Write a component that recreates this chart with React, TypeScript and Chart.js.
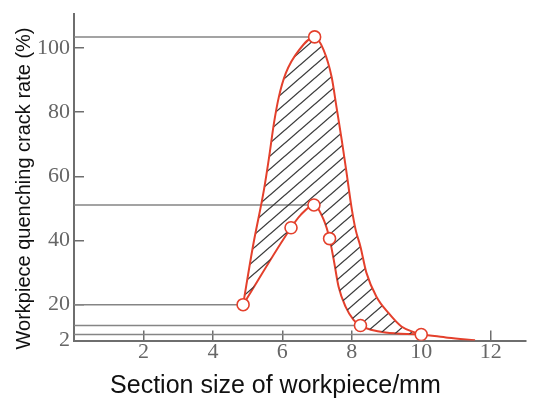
import React, { useEffect, useRef } from "react";
import { Chart, registerables } from "chart.js";

Chart.register(...registerables);

// ---- data ----
const xTicks = [2, 4, 6, 8, 10, 12];
const yTicks = [20, 40, 60, 80, 100];
const Y_MIN = 8.8;
const Y_MAX = 110.6;
const X_MIN = 0;
const X_MAX = 13;
const bottomLabel = "2";

const xTitle = "Section size of workpiece/mm";
const yTitle = "Workpiece quenching crack rate (%)";

// upper boundary curve
const upperX = [4.87, 5.15, 5.47, 5.62, 5.76, 5.9, 6.1, 6.48, 6.93, 7.19, 7.42, 7.56, 7.71, 7.85, 7.99, 8.11, 8.25, 8.42, 8.71, 9.05, 9.43, 9.83, 10.0];
const upperY = [20.0, 38.0, 55.8, 66.1, 76.7, 84.8, 92.2, 99.4, 103.5, 99.4, 91.0, 81.6, 71.4, 61.1, 50.5, 43.4, 38.1, 30.0, 22.5, 17.5, 13.2, 11.3, 10.7];

// lower boundary curve
const lowerX = [4.87, 6.25, 6.53, 6.91, 7.19, 7.36, 7.48, 7.62, 7.82, 8.05, 8.25, 8.97, 10.0, 10.77, 11.55];
const lowerY = [20.0, 44.0, 48.0, 51.1, 46.5, 40.6, 34.0, 25.6, 19.4, 15.3, 13.5, 11.3, 10.7, 9.7, 8.9];

// measured points (circles)
const markerX = [4.87, 6.25, 6.91, 7.36, 8.25, 10.0, 6.93];
const markerY = [20.0, 44.0, 51.1, 40.6, 13.5, 10.7, 103.5];

// horizontal reference lines from the y axis to a point
const refLevel = [103.5, 51.1, 20.0, 13.5, 10.7];
const refEnd = [6.93, 6.91, 4.87, 8.25, 10.0];

const RED = "#e4402c";
const GREY = "#858585";
const AXIS = "#6e6e6e";

function pts(xs: number[], ys: number[]) {
  return xs.map((x, i) => ({ x, y: ys[i] }));
}

function makeHatch(): CanvasPattern | string {
  const c = document.createElement("canvas");
  const w = 15;
  const h = 13;
  c.width = w;
  c.height = h;
  const g = c.getContext("2d");
  if (!g) return "rgba(0,0,0,0.2)";
  g.strokeStyle = "#3a3a3a";
  g.lineWidth = 1.3;
  for (const dx of [-w, 0, w]) {
    g.beginPath();
    g.moveTo(dx - w, 2 * h);
    g.lineTo(dx + 2 * w, -h);
    g.stroke();
  }
  const p = g.createPattern(c, "repeat");
  return p || "rgba(0,0,0,0.2)";
}

export default function App() {
  const ref = useRef<HTMLCanvasElement | null>(null);

  useEffect(() => {
    if (!ref.current) return;
    const hatch = makeHatch();

    const refSets = refLevel.map((lv, i) => ({
      data: [
        { x: X_MIN, y: lv },
        { x: refEnd[i], y: lv },
      ],
      borderColor: GREY,
      borderWidth: 1.5,
      pointRadius: 0,
      fill: false,
      tension: 0,
    }));

    const chart = new Chart(ref.current, {
      type: "line",
      data: {
        datasets: [
          {
            data: pts(markerX, markerY),
            showLine: false,
            pointRadius: 6,
            pointBackgroundColor: "#ffffff",
            pointBorderColor: RED,
            pointBorderWidth: 1.6,
            borderColor: RED,
            fill: false,
          },
          {
            data: pts(upperX, upperY),
            borderColor: RED,
            borderWidth: 2,
            pointRadius: 0,
            cubicInterpolationMode: "monotone",
            fill: "+1",
            backgroundColor: hatch as any,
          },
          {
            data: pts(lowerX, lowerY),
            borderColor: RED,
            borderWidth: 2,
            pointRadius: 0,
            cubicInterpolationMode: "monotone",
            fill: false,
          },
          ...refSets,
        ] as any,
      },
      options: {
        animation: false,
        responsive: false,
        layout: { padding: { left: 0, right: -1, top: 0, bottom: 0 } },
        plugins: {
          legend: { display: false },
          tooltip: { enabled: false },
        },
        scales: {
          x: {
            type: "linear",
            min: X_MIN,
            max: X_MAX,
            afterBuildTicks: (s: any) => {
              s.ticks = xTicks.map((v) => ({ value: v }));
            },
            ticks: {
              font: { family: "Liberation Serif", size: 22 },
              color: "#666666",
              padding: 8,
              callback: (v: any) => String(v),
            },
            grid: {
              drawOnChartArea: false,
              drawTicks: true,
              tickLength: -10,
              color: AXIS,
              lineWidth: 1.5,
            },
            border: { color: AXIS, width: 2 },
            title: {
              display: true,
              text: xTitle + "       ",
              color: "#111111",
              font: { family: "Liberation Sans", size: 25 },
              padding: { top: -2, bottom: 9 },
            },
          },
          y: {
            type: "linear",
            min: Y_MIN,
            max: Y_MAX,
            afterBuildTicks: (s: any) => {
              s.ticks = [Y_MIN, ...yTicks].map((v) => ({ value: v }));
            },
            ticks: {
              font: { family: "Liberation Serif", size: 22, lineHeight: 0.01 },
              color: "#666666",
              padding: 14,
              callback: (v: any) => (v === Y_MIN ? bottomLabel : String(v)),
            },
            grid: {
              drawOnChartArea: false,
              drawTicks: true,
              tickLength: -10,
              color: AXIS,
              lineWidth: 1.5,
            },
            border: { color: AXIS, width: 2 },
            title: {
              display: true,
              text: yTitle + "    ",
              color: "#111111",
              font: { family: "Liberation Sans", size: 20 },
              padding: { top: 12, bottom: -13 },
            },
          },
        },
      } as any,
    });
    return () => chart.destroy();
  }, []);

  return (
    <div style={{ position: "fixed", left: 0, top: 0, width: 533, height: 410, background: "#fff" }}>
      <canvas ref={ref} width={533} height={410} />
    </div>
  );
}
